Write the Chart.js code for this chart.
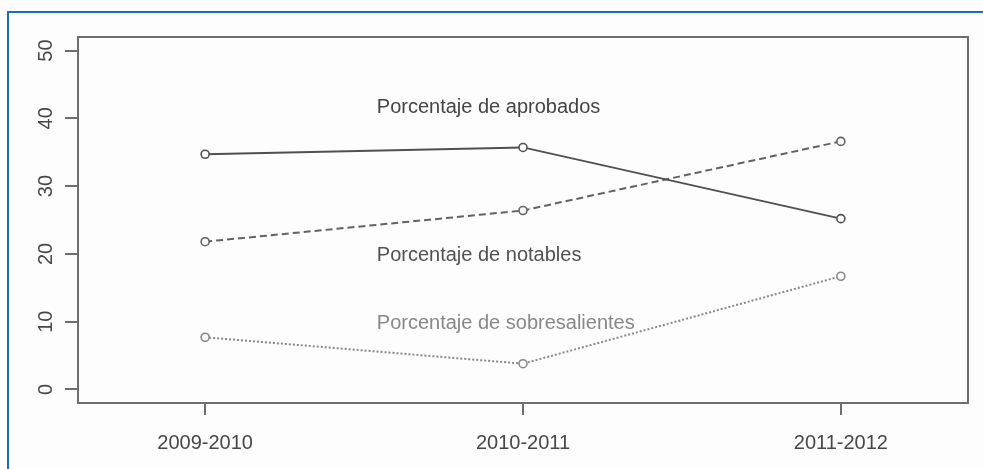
<!DOCTYPE html>
<html>
<head>
<meta charset="utf-8">
<script src="https://cdn.jsdelivr.net/npm/chart.js@4"></script>
<style>
  body { margin: 0; background: #fdfdfd; }
  #wrap { position: relative; width: 983px; height: 469px; }
  #frame { position: absolute; left: 7px; top: 11px; right: 0; bottom: 0;
           border-top: 2px solid #1d6dbd; border-left: 2px solid #1d6dbd; }
  canvas { position: absolute; left: 0; top: 0; }
</style>
</head>
<body>
<div id="wrap">
  <div id="frame"></div>
  <canvas id="chart" width="983" height="469"></canvas>
</div>
<script>
// cursos académicos
const courses = ['2009-2010', '2010-2011', '2011-2012'];
const aprobados = [34.7, 35.7, 25.2];
const notables = [21.8, 26.4, 36.6];
const sobresalientes = [7.7, 3.8, 16.7];
const yTicks = [0, 10, 20, 30, 40, 50];

// etiquetas dentro del gráfico (posición en unidades de datos)
const seriesNotes = [
    { text: 'Porcentaje de aprobados', x: 1.54, y: 41.6, color: '#444444' },
    { text: 'Porcentaje de notables', x: 1.54, y: 19.7, color: '#515151' },
    { text: 'Porcentaje de sobresalientes', x: 1.54, y: 9.7, color: '#888888' }
];

function toPoints(values) {
    return values.map((v, i) => ({ x: i + 1, y: v }));
}

const boxPlugin = {
    id: 'box',
    afterDraw(chart) {
        const ctx = chart.ctx;
        const a = chart.chartArea;
        ctx.save();
        ctx.strokeStyle = '#6e6e6e';
        ctx.lineWidth = 2;
        ctx.strokeRect(a.left, a.top, a.right - a.left, a.bottom - a.top);
        ctx.font = '20px "Liberation Sans", Arial, sans-serif';
        ctx.textAlign = 'left';
        ctx.textBaseline = 'middle';
        seriesNotes.forEach(n => {
            ctx.fillStyle = n.color;
            ctx.fillText(n.text, chart.scales.x.getPixelForValue(n.x), chart.scales.y.getPixelForValue(n.y));
        });
        ctx.restore();
    }
};

const lineStyle = (color, dash, width) => ({
    borderColor: color,
    borderWidth: width,
    borderDash: dash,
    pointRadius: 4,
    pointBorderWidth: 1.6,
    pointBorderColor: color,
    pointBackgroundColor: '#fdfdfd',
    tension: 0
});

window.onload = function() {
    const ctx = document.getElementById('chart').getContext('2d');
    new Chart(ctx, {
        type: 'line',
        data: {
            datasets: [
                Object.assign({ label: 'aprobados', data: toPoints(aprobados) }, lineStyle('#505050', [], 1.8)),
                Object.assign({ label: 'notables', data: toPoints(notables) }, lineStyle('#626262', [7, 4], 2)),
                Object.assign({ label: 'sobresalientes', data: toPoints(sobresalientes) }, lineStyle('#888888', [2, 2], 2))
            ]
        },
        options: {
            responsive: false,
            animation: false,
            layout: { padding: { left: 0, top: 37, right: 15, bottom: 0 } },
            plugins: { legend: { display: false }, tooltip: { enabled: false } },
            scales: {
                x: {
                    type: 'linear',
                    min: 0.6,
                    max: 3.4,
                    afterBuildTicks: axis => { axis.ticks = courses.map((c, i) => ({ value: i + 1 })); },
                    afterFit: axis => { axis.height = 66; },
                    border: { display: false },
                    grid: { drawOnChartArea: false, tickLength: 12, color: '#6e6e6e', lineWidth: 2 },
                    ticks: {
                        autoSkip: false,
                        maxRotation: 0,
                        padding: 16,
                        color: '#474747',
                        font: { family: '"Liberation Sans", Arial, sans-serif', size: 20 },
                        callback: v => courses[v - 1]
                    }
                },
                y: {
                    min: -2,
                    max: 52,
                    afterBuildTicks: axis => { axis.ticks = yTicks.map(v => ({ value: v })); },
                    afterFit: axis => { axis.width = 78; },
                    border: { display: false },
                    grid: { drawOnChartArea: false, tickLength: 13, color: '#6e6e6e', lineWidth: 2 },
                    ticks: {
                        minRotation: 90,
                        maxRotation: 90,
                        crossAlign: 'center',
                        padding: 7,
                        color: '#474747',
                        font: { family: '"Liberation Sans", Arial, sans-serif', size: 20 }
                    }
                }
            }
        },
        plugins: [boxPlugin]
    });
};
</script>
</body>
</html>
